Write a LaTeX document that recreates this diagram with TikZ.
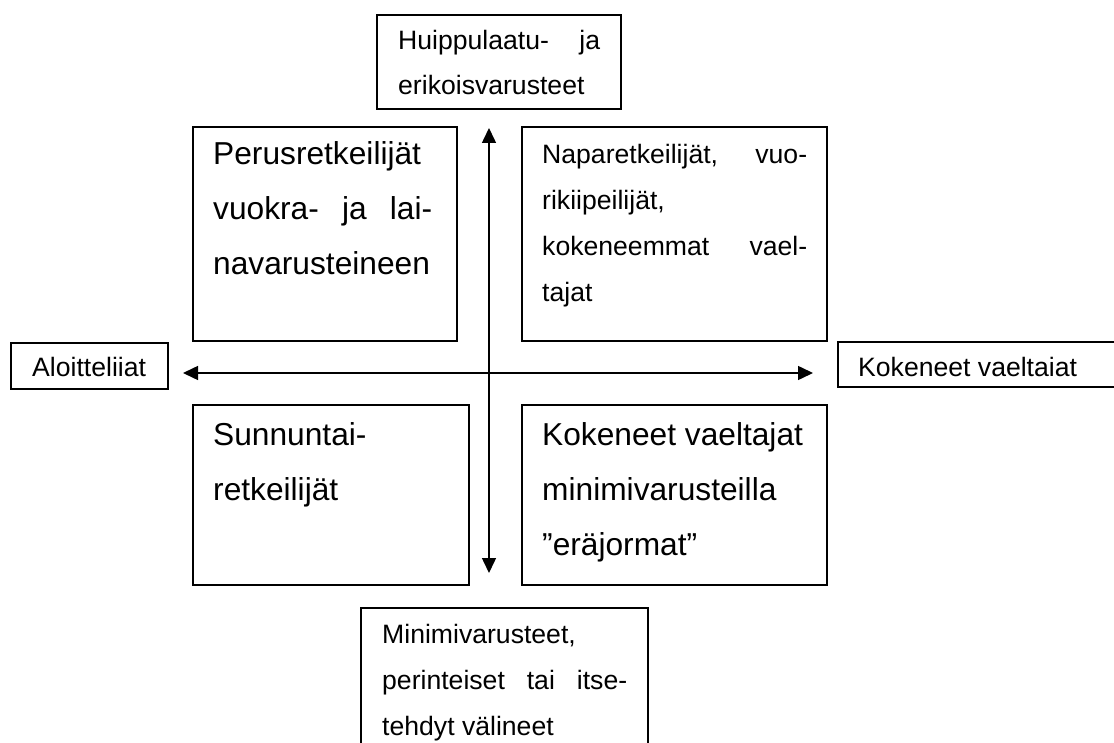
\documentclass[tikz,border=0pt]{standalone}
\usepackage{fontspec}
\setmainfont{Liberation Sans}
\usetikzlibrary{arrows.meta}
\begin{document}
\begin{tikzpicture}[x=1pt,y=-1pt,
  boxst/.style={draw=black,line width=1.5pt,inner sep=0pt,outer sep=0pt,anchor=north west},
  big/.style={font=\fontsize{31.7}{54.7}\selectfont,anchor=base west,inner sep=0pt},
  small/.style={font=\fontsize{26.6}{45.9}\selectfont,anchor=base west,inner sep=0pt},
  axisline/.style={line width=1.5pt,{Triangle[length=15pt,width=14pt]}-{Triangle[length=15pt,width=14pt]}}]
\useasboundingbox (0,0) rectangle (1114,743);
% boxes
\node[boxst,minimum width=244pt,minimum height=94pt] (top) at (377,15) {};
\node[boxst,minimum width=264pt,minimum height=214pt] (tl) at (193,127) {};
\node[boxst,minimum width=305pt,minimum height=214pt] (tr) at (522,127) {};
\node[boxst,minimum width=157pt,minimum height=46pt] (left) at (11,343) {};
\node[boxst,minimum width=290pt,minimum height=45pt] (right) at (838,342) {};
\node[boxst,minimum width=276pt,minimum height=180pt] (bl) at (193,405) {};
\node[boxst,minimum width=305pt,minimum height=180pt] (br) at (522,405) {};
\node[boxst,minimum width=287pt,minimum height=150pt] (bot) at (361,608) {};
% axes
\coordinate (vt) at (489,128);
\coordinate (vb) at (489,573);
\coordinate (hl) at (183,373);
\coordinate (hr) at (813,373);
\draw[axisline] (vt) -- (vb);
\draw[axisline] (hl) -- (hr);
% texts
\node[small] (top1) at (398,50) {\hbox to 202pt{Huippulaatu-\hfill ja}};
\node[small] (top2) at (398,95) {erikoisvarusteet};
\node[big] (tl1) at (213,165) {Perusretkeilijät};
\node[big] (tl2) at (213,220) {\hbox to 219pt{vuokra-\hfill ja\hfill lai-}};
\node[big] (tl3) at (213,275) {navarusteineen};
\node[small] (tr1) at (542,164) {\hbox to 265pt{Naparetkeilijät,\hfill vuo-}};
\node[small] (tr2) at (542,210) {rikiipeilijät,};
\node[small] (tr3) at (542,256) {\hbox to 265pt{kokeneemmat\hfill vael-}};
\node[small] (tr4) at (542,302) {tajat};
\node[small] (lt) at (32,377) {Aloitteliiat};
\node[small] (rt) at (858,377) {Kokeneet vaeltaiat};
\node[big] (bl1) at (213,445) {Sunnuntai-};
\node[big] (bl2) at (213,500) {retkeilijät};
\node[big] (br1) at (542,445) {Kokeneet vaeltajat};
\node[big] (br2) at (542,500) {minimivarusteilla};
\node[big] (br3) at (542,555) {”eräjormat”};
\node[small] (bot1) at (382,643) {Minimivarusteet,};
\node[small] (bot2) at (382,689) {\hbox to 245pt{perinteiset\hfill tai\hfill itse-}};
\node[small] (bot3) at (382,735) {tehdyt välineet};
\end{tikzpicture}
\end{document}
